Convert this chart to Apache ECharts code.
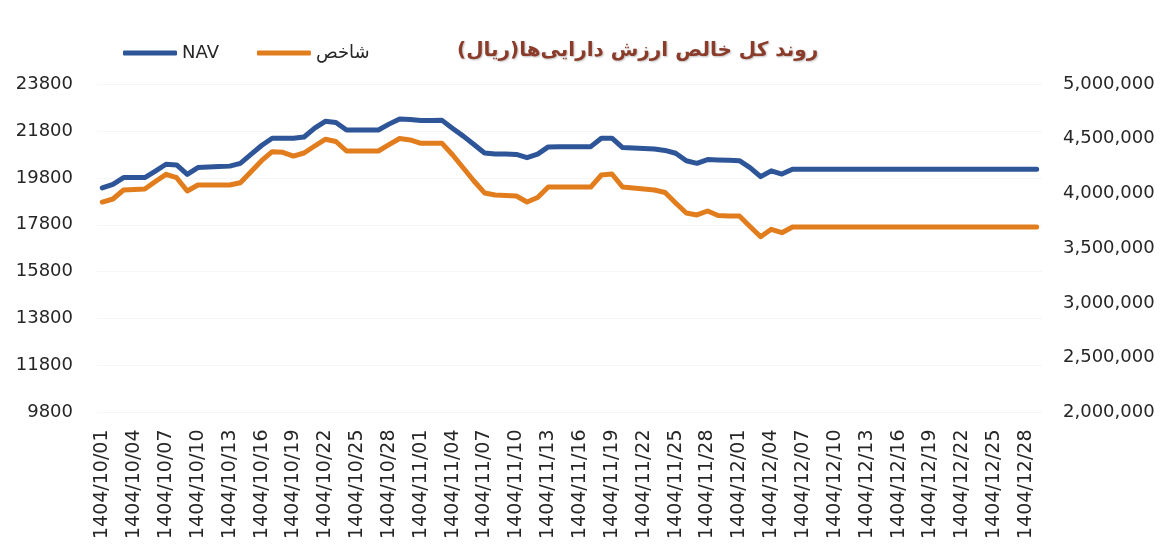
<!DOCTYPE html>
<html>
<head>
<meta charset="utf-8">
<script src="https://cdn.jsdelivr.net/npm/echarts@6/dist/echarts.min.js"></script>
<style>
html,body{margin:0;padding:0;background:#fff;}
#chart{width:1161px;height:556px;}
</style>
</head>
<body>
<div id="chart" dir="rtl"></div>
<script>
const titleText = 'روند کل خالص ارزش دارایی‌ها(ریال)';
const seriesNames = ['NAV', 'شاخص'];

const categories = [
  '1404/10/01','1404/10/02','1404/10/03','1404/10/04','1404/10/05','1404/10/06','1404/10/07','1404/10/08','1404/10/09','1404/10/10',
  '1404/10/11','1404/10/12','1404/10/13','1404/10/14','1404/10/15','1404/10/16','1404/10/17','1404/10/18','1404/10/19','1404/10/20',
  '1404/10/21','1404/10/22','1404/10/23','1404/10/24','1404/10/25','1404/10/26','1404/10/27','1404/10/28','1404/10/29','1404/10/30',
  '1404/11/01','1404/11/02','1404/11/03','1404/11/04','1404/11/05','1404/11/06','1404/11/07','1404/11/08','1404/11/09','1404/11/10',
  '1404/11/11','1404/11/12','1404/11/13','1404/11/14','1404/11/15','1404/11/16','1404/11/17','1404/11/18','1404/11/19','1404/11/20',
  '1404/11/21','1404/11/22','1404/11/23','1404/11/24','1404/11/25','1404/11/26','1404/11/27','1404/11/28','1404/11/29','1404/11/30',
  '1404/12/01','1404/12/02','1404/12/03','1404/12/04','1404/12/05','1404/12/06','1404/12/07','1404/12/08','1404/12/09','1404/12/10',
  '1404/12/11','1404/12/12','1404/12/13','1404/12/14','1404/12/15','1404/12/16','1404/12/17','1404/12/18','1404/12/19','1404/12/20',
  '1404/12/21','1404/12/22','1404/12/23','1404/12/24','1404/12/25','1404/12/26','1404/12/27','1404/12/28','1404/12/29'
];

// NAV (left axis)
const navValues = [
  19370,19520,19810,19810,19810,20090,20380,20350,19950,20240,
  20260,20280,20300,20420,20800,21180,21490,21490,21490,21540,
  21920,22210,22160,21840,21840,21840,21840,22090,22310,22290,
  22240,22245,22250,21900,21580,21220,20860,20820,20820,20800,
  20660,20810,21120,21130,21130,21130,21130,21490,21490,21090,
  21070,21050,21030,20970,20850,20530,20420,20580,20560,20550,
  20530,20240,19850,20100,19960,20170,20170,20170,20170,20170,
  20170,20170,20170,20170,20170,20170,20170,20170,20170,20170,
  20170,20170,20170,20170,20170,20170,20170,20170,20170
];

// شاخص (right axis)
const indexValues = [
  3922000,3950000,4032000,4036000,4041000,4110000,4175000,4144000,4023000,4078000,
  4078000,4078000,4078000,4098000,4199000,4300000,4382000,4376000,4342000,4370000,
  4434000,4495000,4475000,4388000,4388000,4388000,4388000,4446000,4502000,4489000,
  4458000,4458000,4458000,4352000,4233000,4114000,4005000,3986000,3982000,3977000,
  3922000,3963000,4059000,4059000,4059000,4059000,4059000,4169000,4178000,4059000,
  4050000,4041000,4032000,4009000,3913000,3822000,3804000,3840000,3799000,3794000,
  3794000,3699000,3605000,3673000,3642000,3694000,3694000,3694000,3694000,3694000,
  3694000,3694000,3694000,3694000,3694000,3694000,3694000,3694000,3694000,3694000,
  3694000,3694000,3694000,3694000,3694000,3694000,3694000,3694000,3694000
];

const leftAxisMin = 9800, leftAxisMax = 23800, leftAxisStep = 2000;
const rightAxisMin = 2000000, rightAxisMax = 5000000, rightAxisStep = 500000;

const chart = echarts.init(document.getElementById('chart'), null, {renderer: 'canvas'});
const font = 'DejaVu Sans';
const txt = '#262626';

chart.setOption({
  backgroundColor: '#ffffff',
  animation: false,
  title: {
    text: titleText,
    left: 457,
    top: 41,
    padding: 0,
    textStyle: {
      fontFamily: font,
      fontSize: 20,
      fontWeight: 'bold',
      color: '#8A3B2A',
      textShadowColor: 'rgba(0,0,0,0.25)',
      textShadowBlur: 2,
      textShadowOffsetX: 1,
      textShadowOffsetY: 1
    }
  },
  legend: {
    data: seriesNames,
    left: 123,
    top: 44,
    padding: 0,
    icon: 'roundRect',
    itemWidth: 54,
    itemHeight: 5,
    itemGap: 38,
    textStyle: {fontFamily: font, fontSize: 18, color: txt}
  },
  grid: {left: 97, right: 119, top: 84, bottom: 143.5, containLabel: false},
  xAxis: {
    type: 'category',
    data: categories,
    boundaryGap: true,
    axisLine: {show: false},
    axisTick: {show: false},
    axisLabel: {
      interval: 2,
      rotate: 90,
      margin: 17,
      fontFamily: font,
      fontSize: 19,
      color: txt
    },
    splitLine: {show: false}
  },
  yAxis: [
    {
      type: 'value',
      position: 'left',
      min: leftAxisMin,
      max: leftAxisMax,
      interval: leftAxisStep,
      axisLine: {show: false},
      axisTick: {show: false},
      axisLabel: {
        margin: 24, fontFamily: font, fontSize: 18, color: txt,
        formatter: function (v) { return String(v); }
      },
      splitLine: {show: true, lineStyle: {color: '#f5f5f5', width: 1}}
    },
    {
      type: 'value',
      position: 'right',
      min: rightAxisMin,
      max: rightAxisMax,
      interval: rightAxisStep,
      axisLine: {show: false},
      axisTick: {show: false},
      axisLabel: {
        margin: 21,
        fontFamily: font,
        fontSize: 18,
        color: txt,
        formatter: function (v) { return v.toLocaleString('en-US'); }
      },
      splitLine: {show: false}
    }
  ],
  series: [
    {
      name: seriesNames[0],
      type: 'line',
      yAxisIndex: 0,
      data: navValues,
      symbol: 'none',
      color: '#2E5597',
      lineStyle: {width: 5, color: '#2E5597', cap: 'round', join: 'round'}
    },
    {
      name: seriesNames[1],
      type: 'line',
      yAxisIndex: 1,
      data: indexValues,
      symbol: 'none',
      color: '#E27D1E',
      lineStyle: {width: 5, color: '#E27D1E', cap: 'round', join: 'round'}
    }
  ]
});
</script>
</body>
</html>
